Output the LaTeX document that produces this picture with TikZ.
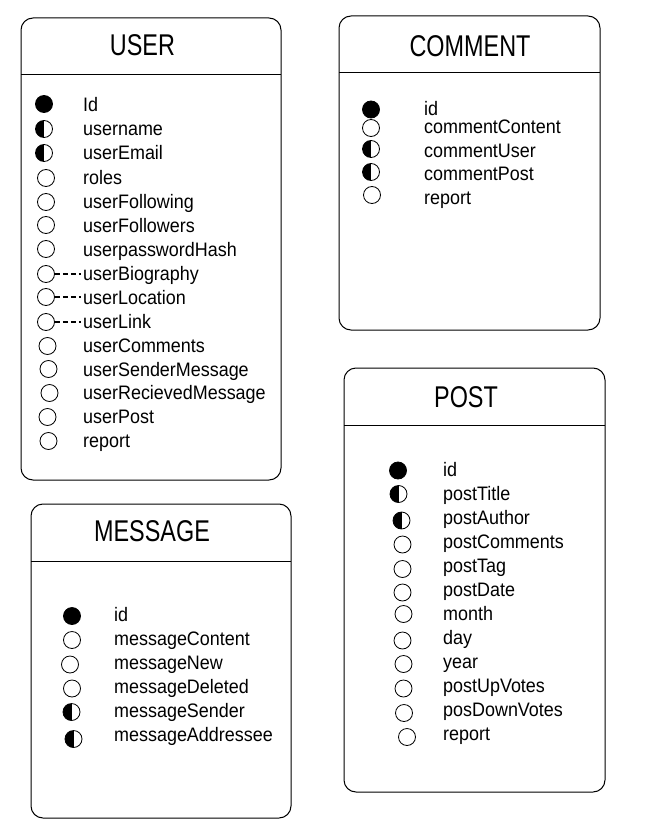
\documentclass[tikz,border=0pt]{standalone}
\usepackage{fontspec}
\setmainfont{Liberation Sans}
\newfontfamily\rowfont[FakeStretch=0.92]{Liberation Sans}
\newfontfamily\headfont[FakeStretch=0.78]{Liberation Sans}
\tikzset{
tablebox/.style={draw, line width=1pt, rounded corners=12pt},
keynone/.style={circle, draw, line width=0.8pt, minimum size=17pt, inner sep=0pt},
keyfull/.style={keynone, fill=black},
keyhalf/.style={keynone, path picture={\fill[black] (path picture bounding box.south) rectangle (path picture bounding box.north west);}},
field/.style={anchor=base west, inner sep=0pt, font=\rowfont\fontsize{19.5}{20}\selectfont},
title/.style={anchor=base, inner sep=0pt, font=\headfont\fontsize{30}{32}\selectfont},
optional/.style={line width=1.4pt, dash pattern=on 5pt off 3pt, shorten >=2pt}
}
\begin{document}
\begin{tikzpicture}[x=1pt, y=-1pt]
\useasboundingbox (0,0) rectangle (645,829);
\draw[tablebox] (21,18) rectangle (281,480);
\draw[line width=1pt] (21,75) -- (281,75);
\node[title] (user) at (142.5,56) {USER};
\node[keyfull] (u1) at (44,104) {};     \node[field] (tu1) at (83,112) {Id};
\node[keyhalf] (u2) at (44,129) {};     \node[field] (tu2) at (83,136) {username};
\node[keyhalf] (u3) at (44,153) {};     \node[field] (tu3) at (83,160) {userEmail};
\node[keynone] (u4) at (46,178) {};     \node[field] (tu4) at (83,184) {roles};
\node[keynone] (u5) at (46,202) {};     \node[field] (tu5) at (83,208) {userFollowing};
\node[keynone] (u6) at (46,225) {};     \node[field] (tu6) at (83,232) {userFollowers};
\node[keynone] (u7) at (46,249) {};     \node[field] (tu7) at (83,256) {userpasswordHash};
\node[keynone] (u8) at (46,274) {};     \node[field] (tu8) at (83,280) {userBiography};
\node[keynone] (u9) at (46,297) {};     \node[field] (tu9) at (83,304) {userLocation};
\node[keynone] (u10) at (46,322) {};    \node[field] (tu10) at (83,328) {userLink};
\node[keynone] (u11) at (47.5,346) {};  \node[field] (tu11) at (83,352) {userComments};
\node[keynone] (u12) at (48.5,369) {};  \node[field] (tu12) at (83,376) {userSenderMessage};
\node[keynone] (u13) at (49.5,393) {};  \node[field] (tu13) at (83,399) {userRecievedMessage};
\node[keynone] (u14) at (47.5,417) {};  \node[field] (tu14) at (83,423) {userPost};
\node[keynone] (u15) at (48.5,441) {};  \node[field] (tu15) at (83,447) {report};
\draw[optional] (u8.east) -- (u8 -| tu8.west);
\draw[optional] (u9.east) -- (u9 -| tu9.west);
\draw[optional] (u10.east) -- (u10 -| tu10.west);

\draw[tablebox] (339,16) rectangle (600,330);
\draw[line width=1pt] (339,73) -- (600,73);
\node[title] (comment) at (470,57) {COMMENT};
\node[keyfull] (c1) at (371,109.5) {};  \node[field] (tc1) at (424,116) {id};
\node[keynone] (c2) at (371,128) {};    \node[field] (tc2) at (424,134) {commentContent};
\node[keyhalf] (c3) at (371,149) {};    \node[field] (tc3) at (424,157.5) {commentUser};
\node[keyhalf] (c4) at (371,172) {};    \node[field] (tc4) at (424,181) {commentPost};
\node[keynone] (c5) at (372,195) {};    \node[field] (tc5) at (424,204.5) {report};

\draw[tablebox] (344,368) rectangle (605,792);
\draw[line width=1pt] (344,425) -- (605,425);
\node[title] (post) at (466,407) {POST};
\node[keyfull] (p1) at (398,470.5) {};  \node[field] (tp1) at (443,476) {id};
\node[keyhalf] (p2) at (398.5,494) {};  \node[field] (tp2) at (443,500) {postTitle};
\node[keyhalf] (p3) at (401.5,520.5) {};\node[field] (tp3) at (443,524) {postAuthor};
\node[keynone] (p4) at (402.5,544.5) {};\node[field] (tp4) at (443,548) {postComments};
\node[keynone] (p5) at (402.5,569) {};  \node[field] (tp5) at (443,572) {postTag};
\node[keynone] (p6) at (402.5,592.5) {};\node[field] (tp6) at (443,596) {postDate};
\node[keynone] (p7) at (403.5,614) {};  \node[field] (tp7) at (443,620) {month};
\node[keynone] (p8) at (402.5,640.5) {};\node[field] (tp8) at (443,644) {day};
\node[keynone] (p9) at (403.5,664) {};  \node[field] (tp9) at (443,668) {year};
\node[keynone] (p10) at (403.5,688.5) {};\node[field] (tp10) at (443,692) {postUpVotes};
\node[keynone] (p11) at (404,713) {};   \node[field] (tp11) at (443,716) {posDownVotes};
\node[keynone] (p12) at (407,737) {};   \node[field] (tp12) at (443,740) {report};

\draw[tablebox] (31,504) rectangle (291,818);
\draw[line width=1pt] (31,561) -- (291,561);
\node[title] (message) at (152,541) {MESSAGE};
\node[keyfull] (m1) at (72,616) {};     \node[field] (tm1) at (114,621) {id};
\node[keynone] (m2) at (72,640) {};     \node[field] (tm2) at (114,645) {messageContent};
\node[keynone] (m3) at (70,664.5) {};   \node[field] (tm3) at (114,669) {messageNew};
\node[keynone] (m4) at (72,688.5) {};   \node[field] (tm4) at (114,693) {messageDeleted};
\node[keyhalf] (m5) at (71.5,712) {};   \node[field] (tm5) at (114,717) {messageSender};
\node[keyhalf] (m6) at (73.5,739) {};   \node[field] (tm6) at (114,741) {messageAddressee};
\end{tikzpicture}
\end{document}
